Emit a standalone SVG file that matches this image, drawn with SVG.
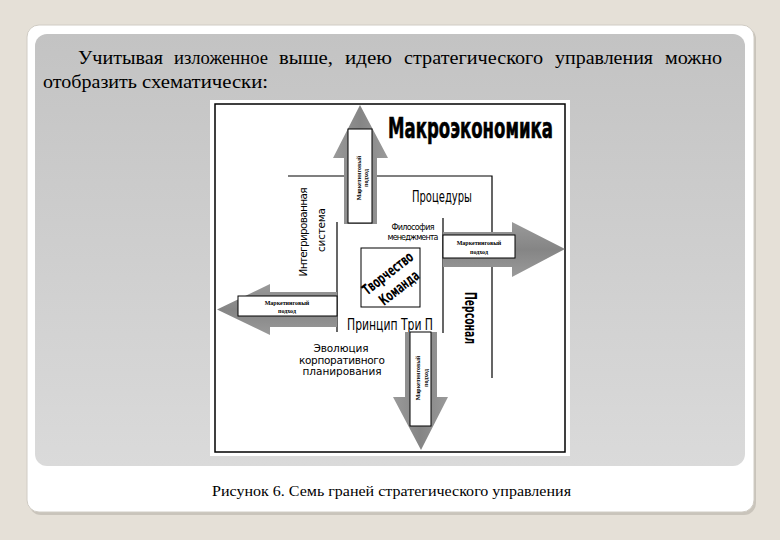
<svg xmlns="http://www.w3.org/2000/svg" width="780" height="540" viewBox="0 0 780 540">
<defs>
<linearGradient id="panel" x1="0" y1="0" x2="0" y2="1">
<stop offset="0" stop-color="#c3c3c3"/>
<stop offset="1" stop-color="#dadada"/>
</linearGradient>
<linearGradient id="arrH" x1="0" y1="0" x2="0" y2="1">
<stop offset="0" stop-color="#9a9a9a"/>
<stop offset="0.5" stop-color="#858585"/>
<stop offset="1" stop-color="#9a9a9a"/>
</linearGradient>
<linearGradient id="arrV" x1="0" y1="0" x2="1" y2="0">
<stop offset="0" stop-color="#9a9a9a"/>
<stop offset="0.5" stop-color="#858585"/>
<stop offset="1" stop-color="#9a9a9a"/>
</linearGradient>
<style>
.line{stroke:#000;stroke-width:1.2;fill:none}
.box{fill:#fff;stroke:#000;stroke-width:1}
.serif{font-family:"Liberation Serif","Times New Roman",serif;fill:#000}
.hd{font-family:"Liberation Serif","Times New Roman",serif;fill:#000;font-size:18px}
.cond{font-family:"Liberation Sans Narrow","DejaVu Sans Condensed","Liberation Sans",sans-serif;fill:#000}
.sans{font-family:"DejaVu Sans","Liberation Sans",sans-serif;fill:#000}
.tiny{font-family:"Liberation Serif",serif;font-size:6px;font-weight:bold;fill:#000;text-anchor:middle}
</style>
</defs>
<rect width="780" height="540" fill="#e5e0d7"/>
<rect x="29" y="27" width="727" height="488" rx="12" fill="#c9c4bb"/>
<rect x="27" y="25" width="727" height="487" rx="12" fill="#ffffff" stroke="#d0ccc4" stroke-width="1"/>
<rect x="35" y="34" width="710" height="432" rx="12" fill="url(#panel)"/>

<g id="intro-text">
<text class="hd" x="78" y="64" textLength="85" lengthAdjust="spacingAndGlyphs">Учитывая</text>
<text class="hd" x="174" y="64" textLength="94" lengthAdjust="spacingAndGlyphs">изложенное</text>
<text class="hd" x="279" y="64" textLength="54" lengthAdjust="spacingAndGlyphs">выше,</text>
<text class="hd" x="345" y="64" textLength="47" lengthAdjust="spacingAndGlyphs">идею</text>
<text class="hd" x="404" y="64" textLength="139" lengthAdjust="spacingAndGlyphs">стратегического</text>
<text class="hd" x="555" y="64" textLength="98" lengthAdjust="spacingAndGlyphs">управления</text>
<text class="hd" x="665" y="64" textLength="57" lengthAdjust="spacingAndGlyphs">можно</text>
<text class="hd" x="43" y="88" textLength="94" lengthAdjust="spacingAndGlyphs">отобразить</text>
<text class="hd" x="142" y="88" textLength="126" lengthAdjust="spacingAndGlyphs">схематически:</text>
</g>

<g id="figure-frame">
<rect x="210" y="100" width="360" height="356" fill="#ffffff"/>
<rect x="215" y="104" width="350" height="348" fill="#ffffff" stroke="#000" stroke-width="1.5"/>
</g>

<g id="connectors">
<path class="line" d="M288,176 H492 V378"/>
<path class="line" d="M337,222 V332"/>
<path class="line" d="M443,218 V333"/>
</g>

<g id="node-macro">
<text class="cond" x="388" y="138" font-size="29" font-weight="bold" textLength="165" lengthAdjust="spacingAndGlyphs" stroke="#000" stroke-width="0.6">Макроэкономика</text>
</g>
<g id="node-procedures">
<text class="cond" x="412" y="202" font-size="15" textLength="60" lengthAdjust="spacingAndGlyphs">Процедуры</text>
</g>
<g id="node-integrated">
<text class="sans" transform="translate(307,232) rotate(-90)" font-size="10.5" text-anchor="middle" textLength="89" lengthAdjust="spacing">Интегрированная</text>
<text class="sans" transform="translate(325,230) rotate(-90)" font-size="10.5" text-anchor="middle" textLength="44" lengthAdjust="spacing">система</text>
</g>
<g id="node-philosophy">
<text class="sans" x="413" y="230" font-size="8" text-anchor="middle" textLength="43" lengthAdjust="spacing">Философия</text>
<text class="sans" x="413" y="240" font-size="8" text-anchor="middle" textLength="51" lengthAdjust="spacing">менеджмента</text>
</g>
<g id="node-creativity">
<rect class="box" x="361" y="248" width="59" height="59"/>
<g transform="translate(393,280) rotate(-38)">
<text class="cond" x="0" y="-3.5" font-size="15" font-weight="bold" text-anchor="middle" textLength="60" lengthAdjust="spacingAndGlyphs">Творчество</text>
<text class="cond" x="0" y="15" font-size="15" font-weight="bold" text-anchor="middle" textLength="46" lengthAdjust="spacingAndGlyphs">Команда</text>
</g>
</g>
<g id="node-principle">
<text class="cond" x="347" y="330" font-size="16" textLength="86" lengthAdjust="spacingAndGlyphs">Принцип  Три П</text>
</g>
<g id="node-evolution">
<text class="sans" x="341" y="352" font-size="10.5" text-anchor="middle" textLength="55" lengthAdjust="spacing">Эволюция</text>
<text class="sans" x="342" y="364" font-size="10.5" text-anchor="middle" textLength="86" lengthAdjust="spacing">корпоративного</text>
<text class="sans" x="342" y="375" font-size="10.5" text-anchor="middle" textLength="79" lengthAdjust="spacing">планирования</text>
</g>
<g id="node-personnel">
<text class="cond" transform="translate(465,318) rotate(90)" font-size="16" font-weight="bold" text-anchor="middle" textLength="52" lengthAdjust="spacingAndGlyphs">Персонал</text>
</g>

<g id="arrow-up">
<path d="M360,105 L388,158 L377,158 L377,224 L344,224 L344,158 L333,158 Z" fill="url(#arrV)"/>
<rect class="box" x="348" y="129" width="24" height="94"/>
<text class="tiny" transform="translate(361,178) rotate(-90)">Маркетинговый</text>
<text class="tiny" transform="translate(368,178) rotate(-90)">подход</text>
</g>
<g id="arrow-right">
<path d="M443,232 L512,232 L512,222 L565,249 L512,277 L512,267 L443,267 Z" fill="url(#arrH)"/>
<rect class="box" x="443" y="235" width="72" height="23"/>
<text class="tiny" x="479" y="245">Маркетинговый</text>
<text class="tiny" x="479" y="254">подход</text>
</g>
<g id="arrow-left">
<path d="M337,292 L270,292 L270,284 L217,309.5 L270,335 L270,327 L337,327 Z" fill="url(#arrH)"/>
<rect class="box" x="238" y="296" width="99" height="20"/>
<text class="tiny" x="287" y="305">Маркетинговый</text>
<text class="tiny" x="287" y="313">подход</text>
</g>
<g id="arrow-down">
<path d="M405,332 L437,332 L437,397 L448,397 L421,450 L393,397 L405,397 Z" fill="url(#arrV)"/>
<rect class="box" x="410" y="332" width="21" height="94"/>
<text class="tiny" transform="translate(420,378) rotate(-90)">Маркетинговый</text>
<text class="tiny" transform="translate(428,378) rotate(-90)">подход</text>
</g>

<text class="serif" x="212" y="496" font-size="14" textLength="359" lengthAdjust="spacingAndGlyphs">Рисунок 6. Семь граней стратегического управления</text>
</svg>
